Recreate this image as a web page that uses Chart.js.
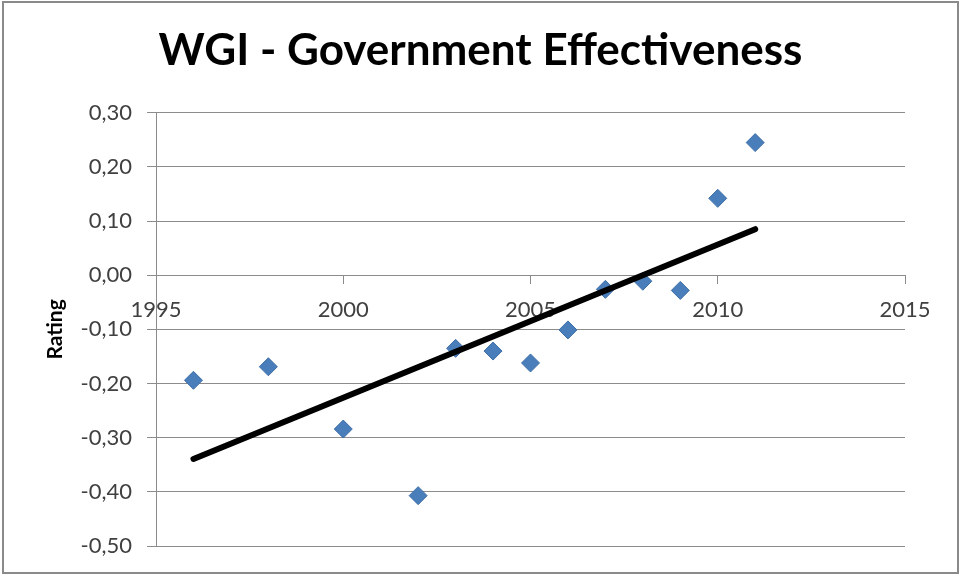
<!DOCTYPE html>
<html>
<head>
<meta charset="utf-8">
<script src="https://cdn.jsdelivr.net/npm/chart.js@4/dist/chart.umd.min.js"></script>
<style>
  body { margin: 0; background: #fff; }
  canvas { display: block; }
</style>
</head>
<body>
<canvas id="myChart" width="961" height="576"></canvas>
<script>
// values
const years = [1996, 1998, 2000, 2002, 2003, 2004, 2005, 2006, 2007, 2008, 2009, 2010, 2011];
const rating = [-0.194, -0.169, -0.284, -0.407, -0.135, -0.140, -0.162, -0.101, -0.026, -0.011, -0.028, 0.142, 0.245];
const xTicks = [1995, 2000, 2005, 2010, 2015];
const yTicks = [-0.5, -0.4, -0.3, -0.2, -0.1, 0, 0.1, 0.2, 0.3];

// linear trend line (least squares), like the spreadsheet trendline
function trendPoints(xs, ys) {
  const n = xs.length;
  let mx = 0, my = 0;
  for (let i = 0; i < n; i++) { mx += xs[i]; my += ys[i]; }
  mx /= n; my /= n;
  let sxx = 0, sxy = 0;
  for (let i = 0; i < n; i++) {
    sxx += (xs[i] - mx) * (xs[i] - mx);
    sxy += (xs[i] - mx) * (ys[i] - my);
  }
  const b = sxy / sxx;
  const a = my - b * mx;
  const x0 = xs[0], x1 = xs[n - 1];
  return [{ x: x0, y: a + b * x0 }, { x: x1, y: a + b * x1 }];
}

const points = years.map((y, i) => ({ x: y, y: rating[i] }));

// white background, grey outer frame, title centred on the whole canvas
const frame = {
  id: "frame",
  afterLayout(chart) {
    if (chart.titleBlock) {
      chart.titleBlock.left = 0;
      chart.titleBlock.right = chart.width;
    }
  },
  beforeDraw(chart) {
    const c = chart.ctx;
    c.save();
    c.fillStyle = "#fff";
    c.fillRect(0, 0, chart.width, chart.height);
    c.strokeStyle = "#8a8a8a";
    c.lineWidth = 2;
    c.strokeRect(3, 2, chart.width - 6, chart.height - 5);
    c.restore();
  },
};

const ctx = document.getElementById("myChart");
new Chart(ctx, {
  type: "scatter",
  data: {
    datasets: [
      {
        type: "line",
        label: "Trend",
        data: trendPoints(years, rating),
        borderColor: "#000",
        borderWidth: 6,
        borderCapStyle: "round",
        pointRadius: 0,
        fill: false,
      },
      {
        label: "Rating",
        data: points,
        pointStyle: "rectRot",
        pointRadius: 9,
        pointBackgroundColor: "#4a7ebb",
        pointBorderColor: "#3f6fa8",
        pointBorderWidth: 1,
      },
    ],
  },
  options: {
    responsive: false,
    animation: false,
    devicePixelRatio: 1,
    layout: { padding: { left: 0, right: 56, top: 0, bottom: 30 } },
    plugins: {
      legend: { display: false },
      tooltip: { enabled: false },
      title: {
        display: true,
        text: "WGI - Government Effectiveness",
        color: "#000",
        font: { family: "Lato", size: 44, weight: "bold" },
        padding: { top: 24, bottom: 36 },
      },
    },
    scales: {
      x: {
        type: "linear",
        position: { y: 0 },
        min: 1995,
        max: 2015,
        afterBuildTicks: (scale) => {
          scale.ticks = xTicks.map((v) => ({ value: v }));
        },
        ticks: {
          color: "#404040",
          font: { family: "Lato", size: 22 },
          padding: 13,
          callback: (v) => String(v),
        },
        grid: { drawOnChartArea: false, drawTicks: true, tickLength: 8, color: "#8c8c8c" },
        border: { color: "#8c8c8c" },
      },
      y: {
        type: "linear",
        min: -0.5,
        max: 0.3,
        afterBuildTicks: (scale) => {
          scale.ticks = yTicks.map((v) => ({ value: v }));
        },
        afterFit: (scale) => {
          scale.width = 156;
        },
        ticks: {
          color: "#404040",
          font: { family: "Lato", size: 22 },
          padding: 15,
          callback: (v) => (Math.abs(v) < 1e-9 ? 0 : v).toFixed(2).replace(".", ","),
        },
        grid: { color: "#8c8c8c", tickLength: 9 },
        border: { color: "#8c8c8c" },
        title: {
          display: true,
          text: "Rating",
          color: "#000",
          font: { family: "Lato", size: 21, weight: "bold" },
          padding: { top: 43, bottom: 0 },
        },
      },
    },
  },
  plugins: [frame],
});
</script>
</body>
</html>
